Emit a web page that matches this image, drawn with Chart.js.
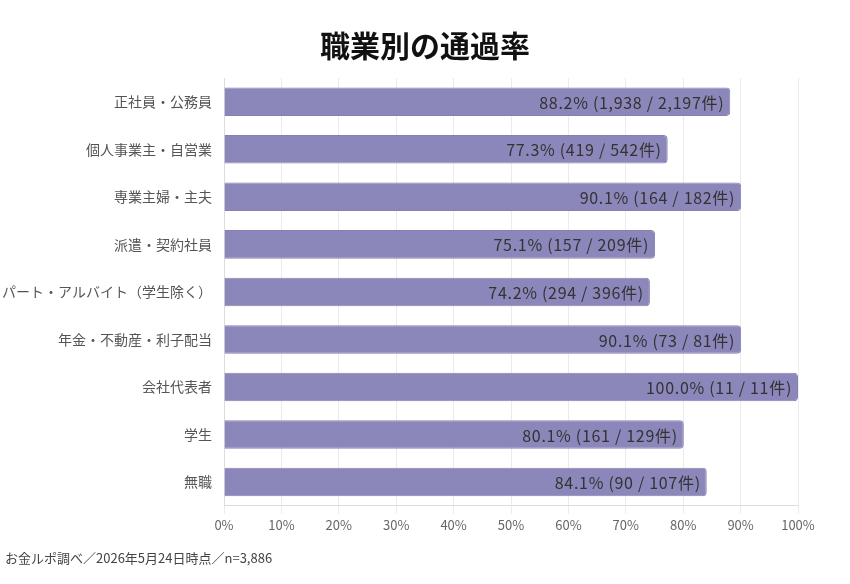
<!DOCTYPE html>
<html lang="ja">
<head>
    <meta charset="UTF-8">
    <title>職業別の通過率</title>
    <script src="https://cdn.jsdelivr.net/npm/chart.js"></script>
    <style>
        body {
            margin: 0;
            padding: 0;
            background-color: #fff;
            font-family: "Noto Sans CJK JP", "Noto Sans", sans-serif;
        }
        #chartContainer {
            position: relative;
            width: 850px;
            height: 584px;
        }
        h1 {
            position: absolute;
            top: 26px;
            left: 0;
            width: 850px;
            margin: 0;
            text-align: center;
            font-size: 30px;
            line-height: 36px;
            font-weight: bold;
            color: #111;
        }
        .note {
            position: absolute;
            top: 550px;
            left: 5px;
            font-size: 13px;
            line-height: 16px;
            color: #444;
        }
    </style>
</head>
<body>
    <div id="chartContainer">
        <canvas id="rateChart"></canvas>
        <h1>職業別の通過率</h1>
        <div class="note">お金ルポ調べ／2026年5月24日時点／n=3,886</div>
    </div>

    <script>
        // data
        const categories = ['正社員・公務員', '個人事業主・自営業', '専業主婦・主夫', '派遣・契約社員',
            'パート・アルバイト（学生除く）', '年金・不動産・利子配当', '会社代表者', '学生', '無職'];
        const rates = [88.2, 77.3, 90.1, 75.1, 74.2, 90.1, 100.0, 80.1, 84.1];
        const passed = [1938, 419, 164, 157, 294, 73, 11, 161, 90];
        const totals = [2197, 542, 182, 209, 396, 81, 11, 129, 107];

        const fontFamily = '"Noto Sans CJK JP", "Noto Sans", sans-serif';

        // writes "88.2% (1,938 / 2,197件)" inside the right end of each bar
        const barLabels = {
            id: 'barLabels',
            afterDatasetsDraw(chart) {
                const ctx = chart.ctx;
                const meta = chart.getDatasetMeta(0);
                ctx.save();
                ctx.font = '16px ' + fontFamily;
                ctx.letterSpacing = '0.7px';
                ctx.fillStyle = '#333';
                ctx.textAlign = 'right';
                ctx.textBaseline = 'middle';
                meta.data.forEach((bar, i) => {
                    const text = rates[i].toFixed(1) + '% (' + passed[i].toLocaleString('en-US') +
                        ' / ' + totals[i].toLocaleString('en-US') + '件)';
                    ctx.fillText(text, bar.x - 6, bar.y + 1);
                });
                ctx.restore();
            }
        };

        const ctx = document.getElementById('rateChart').getContext('2d');
        const rateChart = new Chart(ctx, {
            type: 'bar',
            data: {
                labels: categories,
                datasets: [{
                    data: rates,
                    backgroundColor: '#8b87ba',
                    borderColor: '#8480b4',
                    borderWidth: 1,
                    borderRadius: 4,
                    borderSkipped: 'start',
                    categoryPercentage: 0.6,
                    barPercentage: 1.0
                }]
            },
            options: {
                indexAxis: 'y',
                responsive: true,
                maintainAspectRatio: false,
                animation: false,
                layout: {
                    padding: { left: 0, right: 52, top: 78, bottom: 48.6 }
                },
                plugins: {
                    legend: { display: false },
                    tooltip: { enabled: false }
                },
                scales: {
                    x: {
                        min: 0,
                        max: 100,
                        ticks: {
                            stepSize: 10,
                            color: '#666',
                            font: { size: 13, family: fontFamily },
                            callback: (v) => v + '%'
                        },
                        grid: { color: '#ebebeb' },
                        border: { color: '#ddd' }
                    },
                    y: {
                        afterFit(scale) { scale.width = 224; },
                        ticks: {
                            color: '#555',
                            padding: 12,
                            font: { size: 14, family: fontFamily }
                        },
                        grid: { display: false, drawTicks: false },
                        border: { color: '#ddd' }
                    }
                }
            },
            plugins: [barLabels]
        });
    </script>
</body>
</html>
